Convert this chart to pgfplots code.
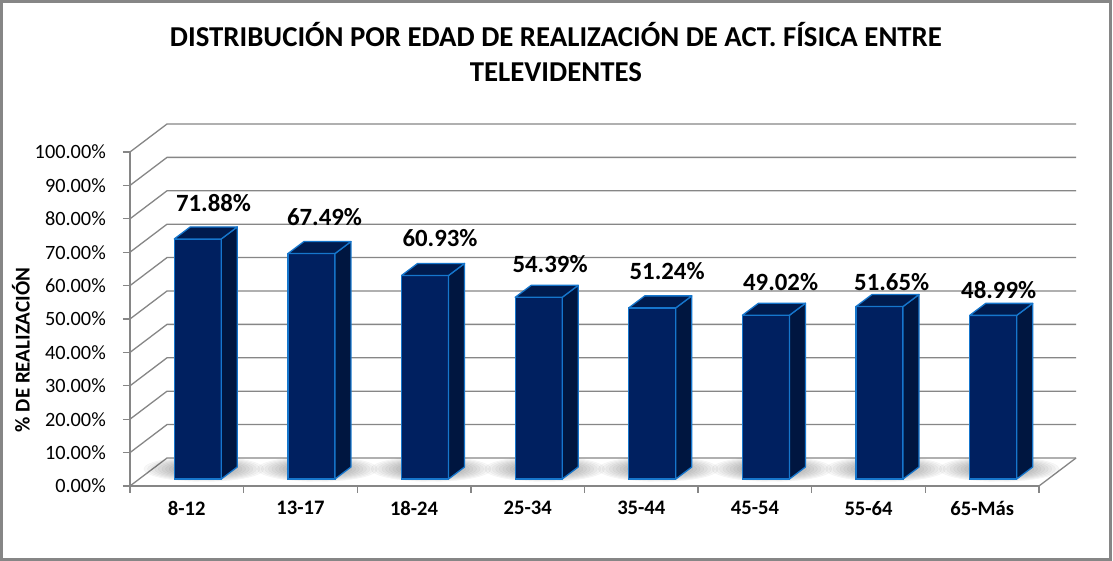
\documentclass[border=0pt]{standalone}
\usepackage{fontspec}
\setmainfont{Carlito}
\usepackage{pgfplots}
\pgfplotsset{compat=1.18}
\usepackage{pgfplotstable}
\definecolor{gridc}{RGB}{134,134,134}
\definecolor{framec}{RGB}{134,134,134}
\definecolor{frontc}{RGB}{0,32,96}
\definecolor{sidec}{RGB}{0,22,64}
\definecolor{topc}{RGB}{0,27,78}
\definecolor{edgec}{RGB}{22,118,204}
\pgfdeclareplotmark{empty}{}
\pgfplotstableread{
x v dx dy
0 71.88 26.7 42.4
1 67.49 24.1 43.1
2 60.93 26.0 44.5
3 54.39 22.4 39.8
4 51.24 25.8 43.9
5 49.02 25.7 39.8
6 51.65 23.1 31.0
7 48.99 16.5 32.4
}\datatable
\begin{document}
\begin{tikzpicture}
\useasboundingbox (0,0) rectangle (1113pt,561pt);
\fill[white] (0,0) rectangle (1113pt,561pt);
\draw[framec, line width=2.6pt] (1.3pt,1.3pt) rectangle (1110.7pt,559.7pt);
\begin{axis}[
  at={(130pt,75pt)}, anchor=south west,
  scale only axis, width=909pt, height=334pt,
  xmin=-0.5, xmax=7.5, ymin=0, ymax=100,
  clip=false, clip marker paths=true,
  /pgf/number format/assume math mode=true,
  axis x line*=bottom, axis y line*=left,
  axis line style={draw=gridc, line width=1.3pt, -},
  ytick={0,10,...,100},
  tick align=outside, major tick length=7pt,
  ytick style={draw=gridc, line width=1.3pt},
  xtick={0,...,7},
  xticklabels={8-12,13-17,18-24,25-34,35-44,45-54,55-64,65-Más},
  xtick style={draw=none},
  yticklabel={\pgfmathprintnumber[fixed,fixed zerofill,precision=2]{\tick}\%},
  yticklabel style={font=\fontsize{20.3}{24}\selectfont, anchor=east, inner sep=0pt, xshift=-17pt},
  xticklabel style={font=\fontsize{20.6}{24}\selectfont\bfseries, anchor=north, inner sep=0pt, yshift=-8pt},
  ylabel={\% DE REALIZACIÓN},
  every axis y label/.style={at={(axis description cs:-0.1199,0.407)}, rotate=90, anchor=center, font=\fontsize{21}{24}\selectfont\bfseries},
  title={DISTRIBUCIÓN POR EDAD DE REALIZACIÓN DE ACT. FÍSICA ENTRE\\TELEVIDENTES},
  title style={font=\fontsize{28.8}{35}\selectfont\bfseries, align=center, at={(axis description cs:0.4686,1.371)}, anchor=north, inner sep=0pt},
]
\pgfplotsinvokeforeach{0,10,...,100}{
  \draw[gridc, line width=1.3pt] (axis cs:-0.5,#1) -- ++(37pt,28pt) -- ++(909pt,0pt);
}
\draw[gridc, line width=1.3pt] (axis cs:7.5,0) -- ++(37pt,28pt);
\pgfplotsinvokeforeach{-0.5,0.5,...,7.5}{
  \draw[gridc, line width=1.3pt] (axis cs:#1,0) -- ++(0pt,-7pt);
}
% floor shadows
\addplot[scatter, only marks, mark=empty,
  visualization depends on={\thisrow{v} \as \val},
  scatter/@pre marker code/.code={%
    \pgfmathsetmacro\h{3.34*\val}%
    \foreach \k in {0,...,13}{%
      \fill[black, opacity=0.03] (17pt,{(17-\h)*1pt}) ellipse ({(60-3.6*\k)*1pt} and {(12.5-0.75*\k)*1pt});
    }%
  },
  scatter/@post marker code/.code={}
] table[x=x,y=v] {\datatable};
% front faces
\addplot[ybar, bar width=47pt, bar shift=11pt, yshift=7pt, fill=frontc, draw=edgec, line width=1.3pt] table[x=x,y=v] {\datatable};
% side and top faces
\addplot[scatter, only marks, mark=empty,
  visualization depends on={\thisrow{v} \as \val},
  scatter/@pre marker code/.code={%
    \pgfmathsetmacro\h{3.34*\val}%
    \filldraw[fill=sidec, draw=edgec, line width=1.3pt, line join=round]
      (34.5pt,7pt) -- (50.5pt,19pt) -- (50.5pt,{(19-\h)*1pt}) -- (34.5pt,{(7-\h)*1pt}) -- cycle;
    \filldraw[fill=topc, draw=edgec, line width=1.3pt, line join=round]
      (-12.5pt,7pt) -- (3.5pt,19pt) -- (50.5pt,19pt) -- (34.5pt,7pt) -- cycle;
  },
  scatter/@post marker code/.code={}
] table[x=x,y=v] {\datatable};
% data labels
\addplot[draw=none, point meta=y,
  visualization depends on={\thisrow{dx} \as \lx},
  visualization depends on={\thisrow{dy} \as \ly},
  nodes near coords={\pgfmathprintnumber[fixed,fixed zerofill,precision=2]{\pgfplotspointmeta}\%},
  every node near coord/.append style={font=\fontsize{24.8}{28}\selectfont\bfseries, text=black, anchor=center, xshift=\lx pt, yshift=\ly pt},
] table[x=x,y=v] {\datatable};
\end{axis}
\end{tikzpicture}
\end{document}
